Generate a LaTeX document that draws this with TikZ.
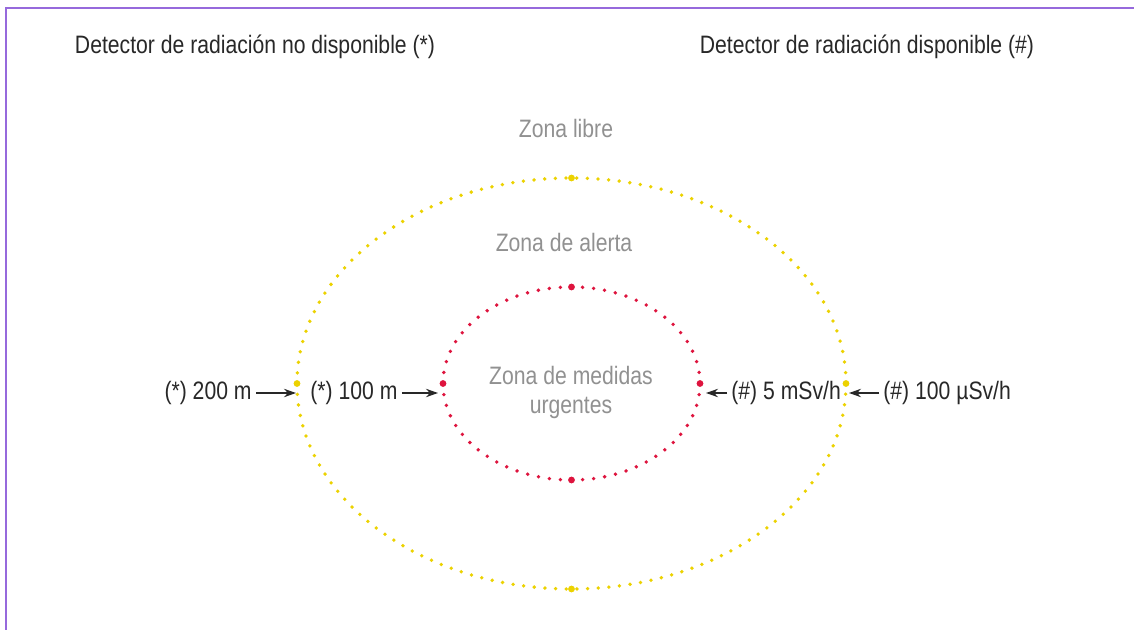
\documentclass[tikz,border=0pt]{standalone}
\usepackage{fontspec}
\setmainfont{Liberation Sans}[FakeStretch=0.84]
\usepackage{xcolor}
\usepackage{tikz}
\usetikzlibrary{arrows, arrows.meta, positioning}
\definecolor{framepurple}{RGB}{150,105,220}
\definecolor{alertyellow}{RGB}{236,210,0}
\definecolor{urgentred}{RGB}{222,20,62}
\definecolor{zonegray}{RGB}{145,145,145}
\definecolor{textdark}{RGB}{40,40,40}

\tikzset{
    zonelabel/.style={text=zonegray, font=\fontsize{12.6}{14.5}\selectfont, align=center},
    distlabel/.style={text=textdark, font=\fontsize{12.6}{14.5}\selectfont, inner sep=2pt},
    pointer/.style={-{Stealth[length=6pt,width=4.2pt]}, line width=0.75pt, textdark}
}

\begin{document}
\begin{tikzpicture}[x=0.5pt,y=-0.5pt]
    % Canvas and frame
    \useasboundingbox (0,0) rectangle (1134,630);
    \fill[white] (0,0) rectangle (1134,630);
    \draw[framepurple, line width=1.3pt] (6,630) -- (6,8) -- (1134,8);

    % Define the zones
    \def\rxOuter{274.5}
    \def\ryOuter{205.5}
    \def\rxInner{128.5}
    \def\ryInner{96.5}
    \coordinate (center) at (571.5,383.5);

    % Draw dotted zone borders
    \draw[alertyellow, line width=1.9pt, line cap=round, dash pattern=on 0pt off 5.337pt]
        (center) ellipse [x radius=\rxOuter, y radius=\ryOuter];
    \draw[urgentred, line width=1.9pt, line cap=round, dash pattern=on 0pt off 5.55pt]
        (center) ellipse [x radius=\rxInner, y radius=\ryInner];
    \foreach \a in {0,90,180,270} {
        \fill[alertyellow] (center) ++({\rxOuter*cos(\a)},{\ryOuter*sin(\a)}) circle (3.4);
        \fill[urgentred] (center) ++({\rxInner*cos(\a)},{\ryInner*sin(\a)}) circle (3.4);
    }

    % Add headers
    \node[distlabel] (hdrNo) at (255,47) {Detector de radiación no disponible (*)};
    \node[distlabel] (hdrYes) at (867,47) {Detector de radiación disponible (\#)};

    % Add zone names
    \node[zonelabel] (libre) at (566,128) {Zona libre};
    \node[zonelabel] (alerta) at (564,242) {Zona de alerta};
    \node[zonelabel] (urgentes) at (571,392) {Zona de medidas\\urgentes};

    % Add distances and pointers
    \coordinate (outerW) at (296,393);
    \coordinate (innerW) at (438,393);
    \coordinate (innerE) at (706,393);
    \coordinate (outerE) at (849,393);

    \node[distlabel, anchor=east] (dist200) at (256,393) {(*) 200 m};
    \node[distlabel, anchor=west] (dist100) at (306,393) {(*) 100 m};
    \node[distlabel, anchor=west] (dose5) at (727,393) {(\#) 5 mSv/h};
    \node[distlabel, anchor=west] (dose100) at (879,393) {(\#) 100 µSv/h};

    \draw[pointer] (dist200) -- (outerW);
    \draw[pointer] (dist100) -- (innerW);
    \draw[pointer] (dose5) -- (innerE);
    \draw[pointer] (dose100) -- (outerE);
\end{tikzpicture}
\end{document}
